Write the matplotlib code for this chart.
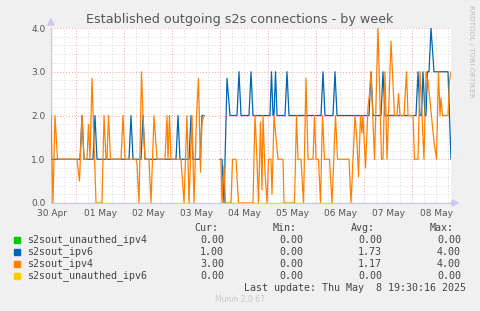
import numpy as np
import matplotlib.pyplot as plt
from matplotlib.patches import Polygon

# time axis: hours after 30 Apr 00:00 (graph covers 30 Apr 11:30 .. 08 May 19:30)
ipv6_t = [11.5, 26, 27, 28, 32.5, 33.5, 34.5, 50.5, 51.5, 52.5, 56.5, 57.5, 58.5,
          74, 75, 76, 80.5, 81.5, 82.5, 86, 87, 88, 92,
          96, 97, 98, 99.5, 101, 104.5, 105.5, 106.5, 110.5, 111.5, 112.5,
          121, 121.75, 122.5, 123, 123.75, 124.5, 128.5, 129.5, 130.5,
          146.5, 147.5, 148.5, 152.5, 153.5, 154.5, 170.5, 171.5, 172.5,
          176.5, 177.5, 178.5, 194, 195, 196, 196.75, 197.5, 198.5, 199, 199.75,
          200.5, 201.5, 203, 210, 211.5]
ipv6_v = [1, 1, 2, 1, 1, 2, 1, 1, 2, 1, 1, 2, 1,
          1, 2, 1, 1, 2, 1, 1, 2, 2, np.nan,
          1, 1, 0, 2.85, 2, 2, 3, 2, 2, 3, 2,
          2, 3, 2, 2, 3, 2, 2, 3, 2,
          2, 3, 2, 2, 3, 2, 2, 3, 2,
          2, 3, 2, 2, 3, 2, 2, 3, 2, 2, 3,
          3, 4, 3, 3, 1]

ipv4_t = [11.5, 12.5, 13.5, 14.75, 24.5, 25.75, 27, 28, 29.5, 30.25, 31, 32, 34, 37,
          38, 39, 39.5, 40.25, 41.25, 46.5, 47.5, 48.5, 54, 54.5, 55.5, 56.75, 57.5,
          58.5, 60.5, 61.5, 63, 64.5, 68.5, 69.5, 70, 70.75, 71.5, 76.5, 78, 79.5,
          80.5, 82, 83, 84.25, 85.25, 86.25, 87, 88, 92,
          96.5, 97, 98, 98.75, 101.5, 102.25, 104, 105.25, 112.5, 113.5, 114.5,
          115.25, 116.25, 117, 117.5, 118.5, 119.5, 120.25, 121.5, 122, 123, 125,
          127.5, 128, 133.25, 134.25, 135, 136.5, 137.75, 139, 140, 142.5, 143.25,
          144, 145.25, 146.25, 147.25, 148.25, 150.75, 152, 153.75, 154.75, 160.5,
          161.5, 163.5, 164.5, 165.25, 166.25, 167, 167.5, 168.75, 170, 170.75,
          171.5, 173.25, 175, 176.75, 177.5, 178.5, 179.5, 181.5, 183.25, 184.5,
          185.25, 186, 188, 189.25, 190, 192.5, 193.25, 195, 196, 198, 199, 200,
          203, 204.25, 205.25, 206, 206.5, 207.25, 210, 210.75, 211.5]
ipv4_v = [2, 0, 2, 1, 1, 0.5, 2, 1, 1, 1.8, 1, 2.85, 0, 0,
          2, 1, 1, 2, 1, 1, 2, 1, 1, 0.9, 0, 3, 2,
          1, 1, 0, 2, 1, 1, 2, 1, 2, 1, 1, 0, 2,
          0, 2, 0, 2, 2.85, 0.7, 1.85, 2, np.nan,
          1, 0, 0.85, 0, 0, 1, 1, 0, 0, 2, 1,
          0, 1.85, 0.3, 2, 0.7, 0, 1, 1, 0.2, 2, 1,
          1, 0, 0, 2, 1, 1, 0, 2.85, 1, 1, 2,
          1, 1, 0, 2, 1, 1, 0, 2, 1, 1,
          0, 2, 1.4, 0.6, 2, 1.6, 2, 0.8, 2.2, 2.5,
          3, 1, 4, 1, 1, 3, 1, 3.7, 2, 2,
          2.5, 2, 2, 3, 2, 2, 1, 1, 3, 1, 3, 2.8,
          1.4, 1, 3, 2, 2.4, 2, 2, 2.8, 3]

zero_t = [11.5, 88, 92, 96, 211.5]
zero_v = [0, 0, np.nan, 0, 0]

day_labels = ['30 Apr', '01 May', '02 May', '03 May', '04 May',
              '05 May', '06 May', '07 May', '08 May']

names = ['s2sout_unauthed_ipv4', 's2sout_ipv6', 's2sout_ipv4', 's2sout_unauthed_ipv6']
colors = ['#00CC00', '#0066B3', '#FF8000', '#FFCC00']
cur = [0.00, 1.00, 3.00, 0.00]
mins = [0.00, 0.00, 0.00, 0.00]
avgs = [0.00, 1.73, 1.17, 0.00]
maxs = [0.00, 4.00, 4.00, 0.00]

W, H = 481, 311
fig = plt.figure(figsize=(W / 100, H / 100), dpi=100, facecolor='#F0F0F0')
ax = fig.add_axes([51 / W, 108 / H, 400 / W, 175 / H])
ax.set_facecolor('white')
ax.set_xlim(11.5, 211.5)
ax.set_ylim(0, 4)


def px(x, y):
    return x / W, 1 - y / H


# grid: minor gray dotted, major light red dotted
for h in np.arange(12, 211, 6):
    if h % 24:
        ax.axvline(h, color='#D8D8D8', lw=0.7, ls=(0, (1, 2)), zorder=1)
for v in np.arange(0.2, 4.01, 0.2):
    if abs(v - round(v)) > 1e-6:
        ax.axhline(v, color='#D8D8D8', lw=0.7, ls=(0, (1, 2)), zorder=1)
for h in range(24, 211, 24):
    ax.axvline(h, color='#F4A0A0', lw=0.7, ls=(0, (1, 2)), zorder=1.5)
for v in range(1, 5):
    ax.axhline(v, color='#F4A0A0', lw=0.7, ls=(0, (1, 2)), zorder=1.5)

# series, in munin draw order
ax.plot(zero_t, zero_v, color=colors[0], lw=0.8, zorder=3)
ax.plot(ipv6_t, ipv6_v, color=colors[1], lw=0.9, zorder=3)
ax.plot(ipv4_t, ipv4_v, color=colors[2], lw=0.9, zorder=3)
ax.plot(zero_t, zero_v, color=colors[3], lw=0.8, zorder=3)

ax.set_xticks([12 + 24 * i for i in range(len(day_labels))])
ax.set_xticklabels(day_labels)
ax.set_yticks([0, 1, 2, 3, 4])
ax.set_yticklabels(['0.0', '1.0', '2.0', '3.0', '4.0'])
ax.tick_params(length=0, labelsize=6.5, labelcolor='#555555', pad=4)
for s in ['top', 'right']:
    ax.spines[s].set_visible(False)
for s in ['left', 'bottom']:
    ax.spines[s].set_color('#C8C8F0')
    ax.spines[s].set_linewidth(0.8)

# axis arrows
fig.patches.append(Polygon([px(48, 25), px(54, 25), px(51, 19)], closed=True,
                           transform=fig.transFigure, color='#C8C8F0'))
fig.patches.append(Polygon([px(452, 200), px(452, 206), px(458, 203)], closed=True,
                           transform=fig.transFigure, color='#C8C8F0'))

fig.text(*px(240, 19), 'Established outgoing s2s connections - by week',
         ha='center', va='center', fontsize=9.2, color='#555555')
fig.text(*px(471, 5), 'RRDTOOL / TOBI OETIKER', rotation=270, ha='center',
         va='top', fontsize=5.2, color='#BBBBBB')

mono = 'DejaVu Sans Mono'
tc = '#444444'
for x, lab in zip([218, 297, 375, 454], ['Cur:', 'Min:', 'Avg:', 'Max:']):
    fig.text(*px(x, 228), lab, ha='right', va='center', family=mono, fontsize=7.2, color=tc)
for i, name in enumerate(names):
    y = 240 + i * 12
    fig.patches.append(Polygon([px(14, y - 3), px(20, y - 3), px(20, y + 3), px(14, y + 3)],
                               closed=True, transform=fig.transFigure, color=colors[i]))
    fig.text(*px(27, y), name, ha='left', va='center', family=mono, fontsize=7.2, color=tc)
    for x, val in zip([224, 303, 382, 461], [cur[i], mins[i], avgs[i], maxs[i]]):
        fig.text(*px(x, y), '%.2f' % val, ha='right', va='center', family=mono,
                 fontsize=7.2, color=tc)
fig.text(*px(466, 288), 'Last update: Thu May  8 19:30:16 2025', ha='right', va='center',
         family=mono, fontsize=7.2, color=tc)
fig.text(*px(240, 300), 'Munin 2.0.67', ha='center', va='center', fontsize=5.5,
         color='#C8C8C8')

fig.savefig('out.png', dpi=100, facecolor=fig.get_facecolor())
